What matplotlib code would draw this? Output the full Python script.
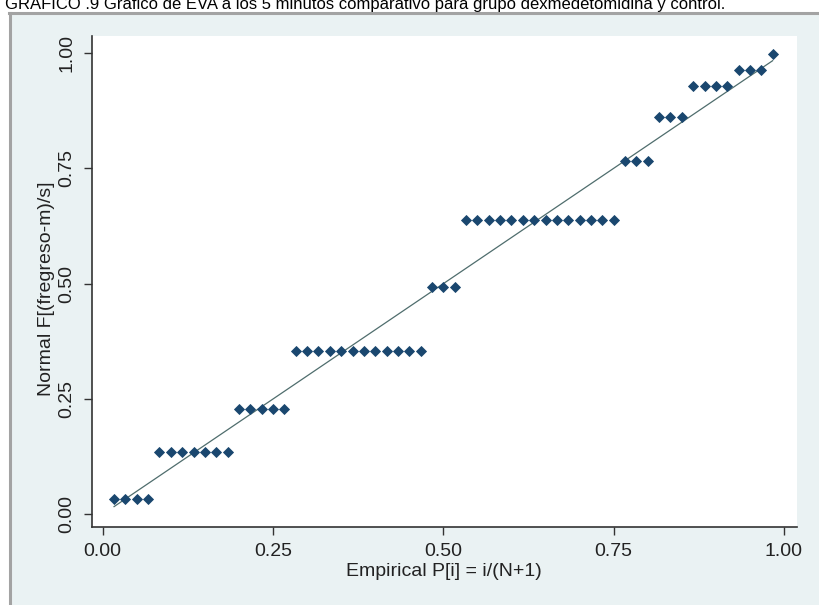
import numpy as np
import matplotlib
matplotlib.use("Agg")
import matplotlib.pyplot as plt
from matplotlib.patches import Rectangle
from matplotlib.lines import Line2D

plt.rcParams['font.family'] = ['Liberation Sans', 'DejaVu Sans']

# step levels of Normal F[(fregreso-m)/s] and how many observations sit on each
level_values = [0.033, 0.134, 0.228, 0.353, 0.492, 0.638, 0.765, 0.862, 0.928, 0.964, 0.998]
level_counts = [4, 7, 5, 12, 3, 14, 3, 3, 4, 3, 1]

tick_values = [0.0, 0.25, 0.5, 0.75, 1.0]
tick_labels = ["0.00", "0.25", "0.50", "0.75", "1.00"]

title = "GRAFICO .9 Grafico de EVA a los 5 minutos comparativo para grupo dexmedetomidina y control."
x_title = "Empirical P[i] = i/(N+1)"
y_title = "Normal F[(fregreso-m)/s]"

# expand the levels into the sorted series, x is the plotting position i/(N+1)
normal_f = np.repeat(level_values, level_counts)
n_obs = len(normal_f)
empirical_p = np.arange(1, n_obs + 1) / (n_obs + 1)

W, H = 820, 605
fig = plt.figure(figsize=(W / 100, H / 100), dpi=100)
fig.patch.set_facecolor('white')


def fx(px):
    return px / W


def fy(py):
    return 1 - py / H


# stata style outer panel
fig.patches.append(Rectangle((fx(10), 0), 1 - fx(10), fy(14), transform=fig.transFigure,
                             facecolor='#eaf2f3', edgecolor='none', zorder=-5))
fig.lines.append(Line2D([fx(10), fx(10)], [0, fy(13)], transform=fig.transFigure,
                        color='#a3a3a3', lw=2.2, zorder=-4))
fig.lines.append(Line2D([fx(9), 1], [fy(13), fy(13)], transform=fig.transFigure,
                        color='#a3a3a3', lw=2.2, zorder=-4))

fig.text(fx(5), fy(9), title, fontsize=12, color='black', ha='left', va='baseline')

# plot region
left, right, top, bottom = 91.7, 796.7, 36, 526.7
ax = fig.add_axes([fx(left), fy(bottom), fx(right) - fx(left), fy(top) - fy(bottom)])
ax.set_facecolor('white')

x0_px, x1_px = 102.7, 784.0
y0_px, y1_px = 514.3, 53.0
ax.set_xlim((left - x0_px) / (x1_px - x0_px), (right - x0_px) / (x1_px - x0_px))
ax.set_ylim((y0_px - bottom) / (y0_px - y1_px), (y0_px - top) / (y0_px - y1_px))

ax.plot([empirical_p[0], empirical_p[-1]], [empirical_p[0], empirical_p[-1]],
        color='#4f6d6d', lw=0.9, zorder=2)
ax.plot(empirical_p, normal_f, linestyle='none', marker='D', markersize=5.6,
        markerfacecolor='#1a476f', markeredgecolor='#1a476f', markeredgewidth=0.6, zorder=3)

for side in ['top', 'right']:
    ax.spines[side].set_visible(False)
for side in ['left', 'bottom']:
    ax.spines[side].set_color('#333333')
    ax.spines[side].set_linewidth(1.2)

ax.set_xticks(tick_values)
ax.set_xticklabels(tick_labels)
ax.set_yticks(tick_values)
ax.set_yticklabels(tick_labels)
ax.tick_params(axis='both', direction='out', length=6, width=1, color='#333333',
               labelsize=14, labelcolor='#222222')
ax.tick_params(axis='x', pad=6)
ax.tick_params(axis='y', pad=6)
for lab in ax.get_yticklabels():
    lab.set_rotation(90)
    lab.set_va('center')
    lab.set_ha('right')

fig.text(fx(444), fy(571), x_title, fontsize=14, color='#222222', ha='center', va='center')
fig.text(fx(47), fy(289), y_title, fontsize=14, color='#222222', ha='center', va='center',
         rotation=90)

fig.savefig('out.png', dpi=100, facecolor=fig.get_facecolor())
